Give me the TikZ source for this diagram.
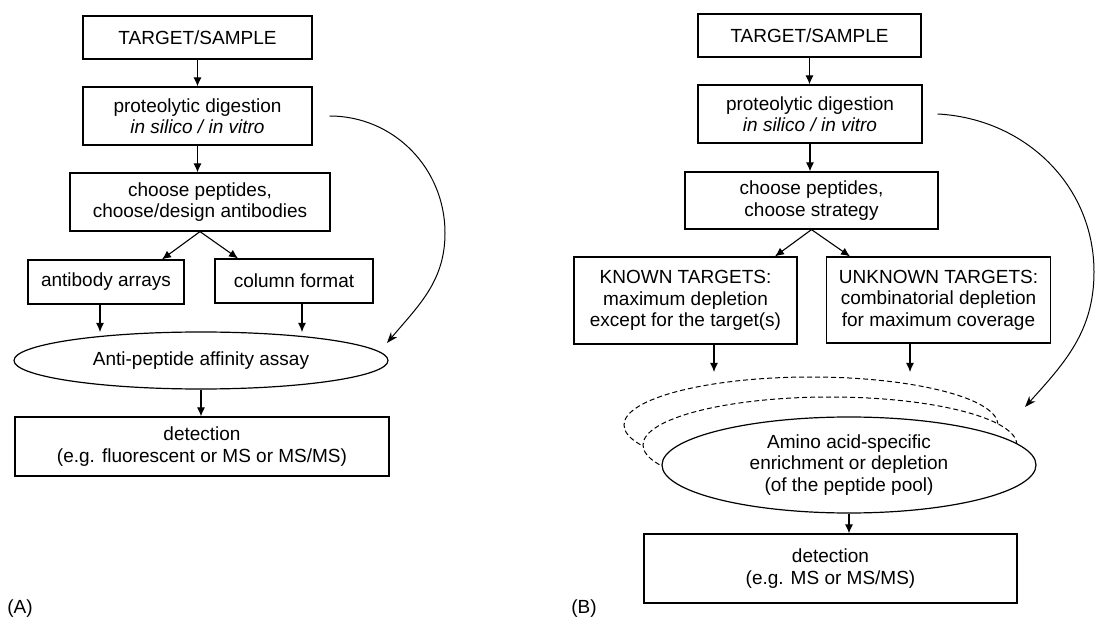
\documentclass[tikz,border=0pt]{standalone}
\usepackage{fontspec}
\setmainfont{Liberation Sans}
\usetikzlibrary{shapes.geometric,arrows.meta}

\tikzset{
  stepbox/.style={draw, rectangle, line width=1.2pt, inner sep=0pt, align=center},
  assaybox/.style={draw, ellipse, line width=1.2pt, inner sep=0pt, align=center, fill=white},
  poolghost/.style={draw, ellipse, line width=1pt, dash pattern=on 5pt off 3pt, fill=white,
    minimum width=374pt, minimum height=96pt},
  flow/.style={-{Latex[length=9pt,width=8pt]}, line width=1.1pt},
  bypass/.style={-{Stealth[length=11pt,width=8pt]}, line width=1pt}
}

\begin{document}
\begin{tikzpicture}[x=1pt, y=-1pt, font=\fontsize{19}{21.5}\selectfont]
            \useasboundingbox (0,0) rectangle (1096,620);

            % (A) root node
            \node[stepbox, minimum width=229pt, minimum height=43pt] (tsA) at (197.5,37.5) {TARGET/SAMPLE};

            % (A) digestion
            \node[stepbox, minimum width=229pt, minimum height=58pt] (digA) at (197.5,116) {proteolytic digestion\\\textit{in silico / in vitro}};
            \draw[flow] (tsA) -- (tsA.south |- digA.north);

            % (A) choice of peptides
            \node[stepbox, minimum width=260pt, minimum height=58pt] (choA) at (200,202) {choose peptides,\\choose/design antibodies};
            \draw[flow] (digA) -- (digA.south |- choA.north);

            % (A) two formats
            \node[stepbox, minimum width=156pt, minimum height=44pt] (arrA) at (106,282) {antibody arrays};
            \node[stepbox, minimum width=158pt, minimum height=44pt] (colA) at (294,281) {column format};
            \draw[flow] (choA.south) -- ([xshift=56pt]arrA.north);
            \draw[flow] (choA.south) -- ([xshift=-56pt]colA.north);

            % (A) assay
            \node[assaybox, minimum width=374pt, minimum height=57pt] (assayA) at (201,360.5) {Anti-peptide affinity assay};
            \coordinate (arrEnd) at (100,332);
            \coordinate (colEnd) at (302,332);
            \draw[flow] (arrEnd |- arrA.south) -- (arrEnd);
            \draw[flow] (colEnd |- colA.south) -- (colEnd);
            \coordinate (bypassEndA) at (387,343);
            \draw[bypass] ([xshift=17pt]digA.east) to[out=0,in=90] (445,233) to[out=-90,in=50] (bypassEndA);

            % (A) detection
            \node[stepbox, minimum width=374pt, minimum height=59pt] (detA) at (202,446.5) {detection\\(e.g. fluorescent or MS or MS/MS)};
            \draw[flow] (assayA) -- (assayA.south |- detA.north);

            \node (labA) at (20,609) {(A)};

            % (B) root node
            \node[stepbox, minimum width=223pt, minimum height=43pt] (tsB) at (809.5,35.5) {TARGET/SAMPLE};

            % (B) digestion
            \node[stepbox, minimum width=224pt, minimum height=58pt] (digB) at (810,114) {proteolytic digestion\\\textit{in silico / in vitro}};
            \draw[flow] (tsB) -- (tsB.south |- digB.north);

            % (B) choice of peptides
            \node[stepbox, minimum width=253pt, minimum height=57pt] (choB) at (811.5,200.5) {choose peptides,\\choose strategy};
            \draw[flow] (digB) -- (digB.south |- choB.north);

            % (B) two strategies
            \node[stepbox, minimum width=223pt, minimum height=87pt] (knB) at (685.5,300.5) {KNOWN TARGETS:\\maximum depletion\\except for the target(s)};
            \node[stepbox, minimum width=224pt, minimum height=86pt] (unB) at (938.5,300) {UNKNOWN TARGETS:\\combinatorial depletion\\for maximum coverage};
            \draw[flow] (choB.south) -- ([xshift=89.5pt]knB.north);
            \draw[flow] (choB.south) -- ([xshift=-88.5pt]unB.north);
            \coordinate (knEnd) at (714,372);
            \coordinate (unEnd) at (910,372);
            \draw[flow] (knEnd |- knB.south) -- (knEnd);
            \draw[flow] (unEnd |- unB.south) -- (unEnd);

            % (B) enrichment, with two rounds behind it
            \node[poolghost] (ghost2) at (811,425) {};
            \node[poolghost] (ghost1) at (830,445) {};
            \node[assaybox, minimum width=374pt, minimum height=96pt] (poolB) at (849,465) {Amino acid-specific\\enrichment or depletion\\(of the peptide pool)};
            \coordinate (bypassEndB) at (1025,407);
            \draw[bypass] ([xshift=15pt]digB.east) to[out=-3,in=90] (1094,272) to[out=-90,in=48] (bypassEndB);

            % (B) detection
            \node[stepbox, minimum width=373pt, minimum height=69pt] (detB) at (830.5,568.5) {detection\\(e.g. MS or MS/MS)};
            \draw[flow] (poolB) -- (poolB.south |- detB.north);

            \node (labB) at (584,609) {(B)};
        \end{tikzpicture}
\end{document}
